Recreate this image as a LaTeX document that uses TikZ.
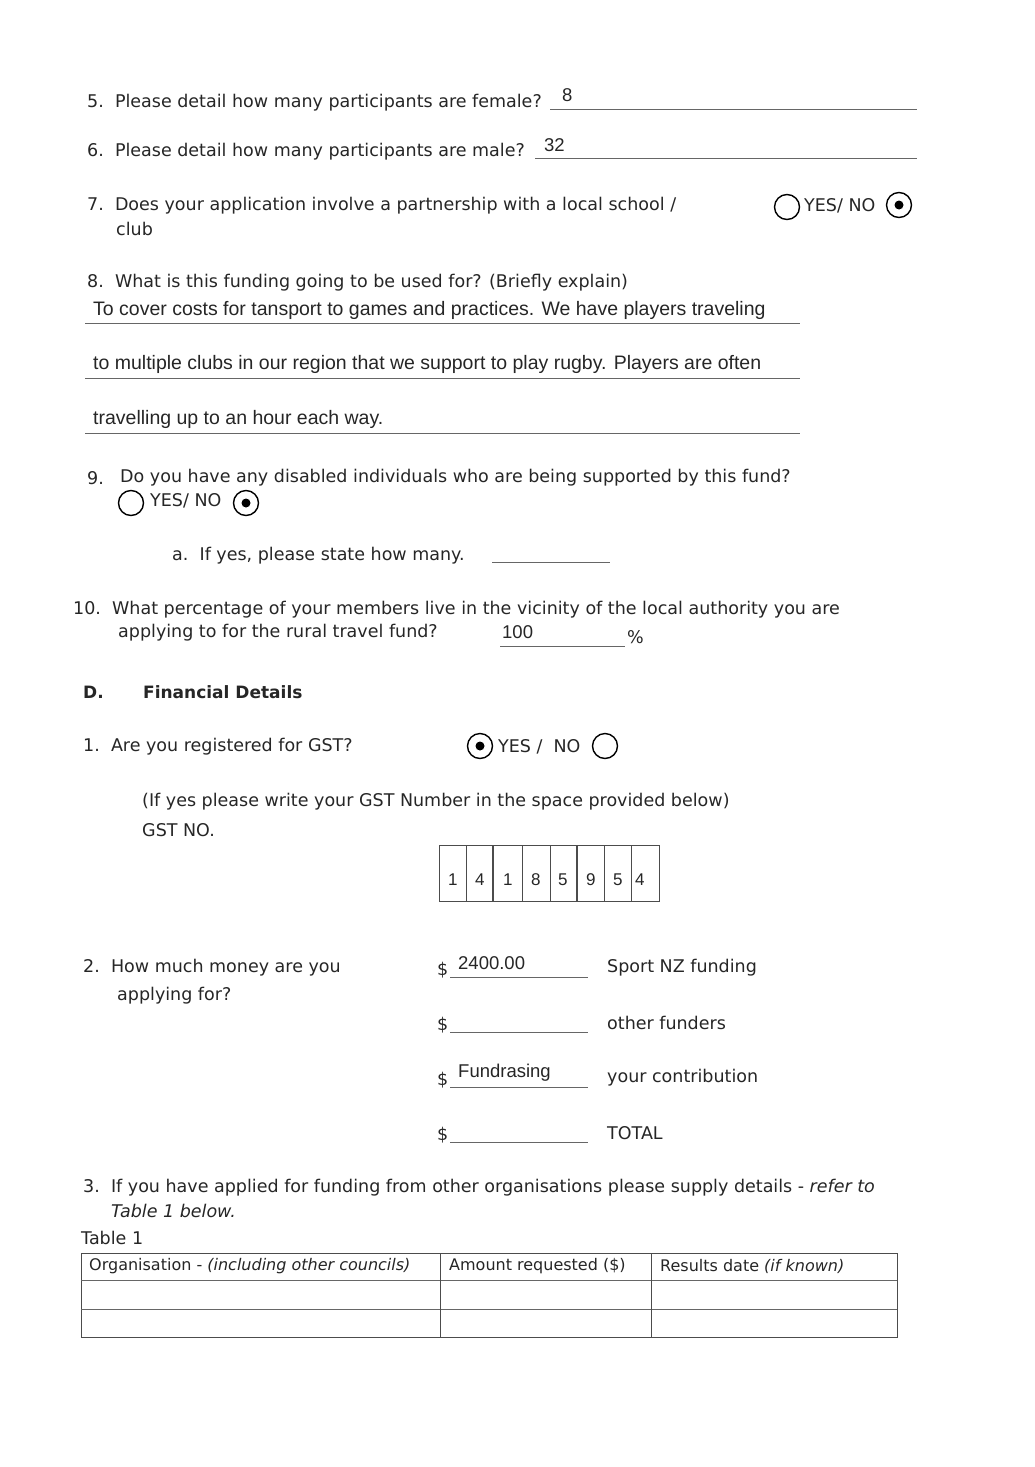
\documentclass[tikz,border=0pt]{standalone}
\usepackage{fontspec}
\setmainfont{DejaVu Sans}
\newfontfamily\hand{Liberation Sans}
\begin{document}
\begin{tikzpicture}[x=1pt,y=-1pt,
 t/.style={anchor=west,inner sep=0pt,font=\fontsize{17.5}{20}\selectfont,text=black!85},
 h/.style={anchor=west,inner sep=0pt,font=\hand\fontsize{19.5}{22}\selectfont,text=black!85},
 hs/.style={h,font=\hand\fontsize{18.5}{21}\selectfont},
 ln/.style={black!60,line width=0.8pt},
 rb/.style={circle,draw,line width=1.4pt,minimum size=25pt,inner sep=0pt},
 dot/.style={circle,fill,minimum size=9pt,inner sep=0pt}]
\useasboundingbox (0,0) rectangle (1035,1467);
\fill[white] (0,0) rectangle (1035,1467);
% 5,6
\node[t] (q5) at (87,103) {5.\ \ Please detail how many participants are female?};
\node[hs] (a5) at (562,95) {8};
\coordinate (l5a) at (550,109); \coordinate (l5b) at (917,109); \draw[ln] (l5a)--(l5b);
\node[t] (q6) at (87,152) {6.\ \ Please detail how many participants are male?};
\node[hs] (a6) at (544,145) {32};
\coordinate (l6a) at (535,158); \coordinate (l6b) at (917,158); \draw[ln] (l6a)--(l6b);
% 7
\node[t] (q7) at (87,206) {7.\ \ Does your application involve a partnership with a local school /};
\node[t] (q7b) at (116,229) {club};
\node[rb] (c7y) at (787,207) {};
\node[t] (yn7) at (804,206) {YES/ NO};
\node[rb] (c7n) at (899,205) {}; \node[dot] (d7) at (c7n) {};
% 8
\node[t] (q8) at (87,283) {8.\ \ What is this funding going to be used for? (Briefly explain)};
\node[h] (a8a) at (93,310) {To cover costs for tansport to games and practices. We have players traveling};
\coordinate (l8a) at (85,323); \coordinate (l8b) at (800,323); \draw[ln] (l8a)--(l8b);
\node[h] (a8b) at (93,364) {to multiple clubs in our region that we support to play rugby. Players are often};
\coordinate (l8c) at (85,378); \coordinate (l8d) at (800,378); \draw[ln] (l8c)--(l8d);
\node[h] (a8c) at (93,419) {travelling up to an hour each way.};
\coordinate (l8e) at (85,433); \coordinate (l8f) at (800,433); \draw[ln] (l8e)--(l8f);
% 9
\node[t] (q9n) at (87,478) {9.};
\node[t] (q9) at (120,478) {Do you have any disabled individuals who are being supported by this fund?};
\node[rb] (c9y) at (131,503) {};
\node[t] (yn9) at (150,501) {YES/ NO};
\node[rb] (c9n) at (246,503) {}; \node[dot] (d9) at (c9n) {};
\node[t] (q9a) at (172,556) {a.\ \ If yes, please state how many.};
\coordinate (l9a) at (492,562); \coordinate (l9b) at (610,562); \draw[ln] (l9a)--(l9b);
% 10
\node[t] (q10) at (73,610) {10.\ \ What percentage of your members live in the vicinity of the local authority you are};
\node[t] (q10b) at (118,633) {applying to for the rural travel fund?};
\node[hs] (a10) at (502,632) {100};
\coordinate (l10a) at (500,646); \coordinate (l10b) at (625,646); \draw[ln] (l10a)--(l10b);
\node[t] (pc) at (627,637) {\%};
% D
\node[t,font=\bfseries\fontsize{17}{20}\selectfont] (D) at (83,692) {D.};
\node[t,font=\bfseries\fontsize{17}{20}\selectfont] (FD) at (143,692) {Financial Details};
\node[t] (d1) at (83,747) {1.\ \ Are you registered for GST?};
\node[rb] (cgy) at (480,746) {}; \node[dot] (dg) at (cgy) {};
\node[t] (yng) at (498,747) {YES /\ \ NO};
\node[rb] (cgn) at (605,746) {};
\node[t] (gi) at (142,802) {(If yes please write your GST Number in the space provided below)};
\node[t] (gn) at (142,830) {GST NO.};
\draw[black!70,line width=1pt] (439,845) rectangle (659,901);
\foreach \xx/\w in {466/0.8,493/2,522/0.8,550/0.8,577/2,604/0.8,631/0.8}
  \draw[black!70,line width=\w pt] (\xx,845)--(\xx,901);
\foreach \xx/\d [count=\i] in {453/1,480/4,508/1,536/8,563/5,591/9,618/5,640/4}
  \node[h,font=\hand\fontsize{17}{19}\selectfont] (g\i) at (\xx-5,880) {\d};
% 2
\node[t] (d2) at (83,968) {2.\ \ How much money are you};
\node[t] (d2b) at (117,996) {applying for?};
\foreach \yy/\lab [count=\i] in {968/Sport NZ funding,1023/other funders,1078/your contribution,1133/TOTAL}{
  \node[t] (s\i) at (437,\yy+2) {\$};
  \coordinate (m\i a) at (450,\yy+9); \coordinate (m\i b) at (588,\yy+9);
  \draw[ln] (m\i a)--(m\i b);
  \node[t] (lab\i) at (607,\yy) {\lab};
}
\node[hs] (v1) at (458,963) {2400.00};
\node[hs] (v3) at (458,1073) {Fundrasing};
% 3
\node[t] (d3) at (83,1188) {3.\ \ If you have applied for funding from other organisations please supply details - \textit{refer to}};
\node[t] (d3b) at (111,1211) {\textit{Table 1 below.}};
\node[t] (tb) at (81,1238) {Table 1};
\draw[black!70,line width=1pt] (81,1253) rectangle (897,1337);
\draw[black!60,line width=0.8pt] (81,1280)--(897,1280) (81,1309)--(897,1309);
\draw[black!70,line width=1pt] (440,1253)--(440,1337) (651,1253)--(651,1337);
\node[t,font=\fontsize{16}{18}\selectfont] (th1) at (89,1266) {Organisation - \textit{(including other councils)}};
\node[t,font=\fontsize{16}{18}\selectfont] (th2) at (449,1266) {Amount requested (\$)};
\node[t,font=\fontsize{16}{18}\selectfont] (th3) at (660,1266) {Results date \textit{(if known)}};
\end{tikzpicture}
\end{document}
